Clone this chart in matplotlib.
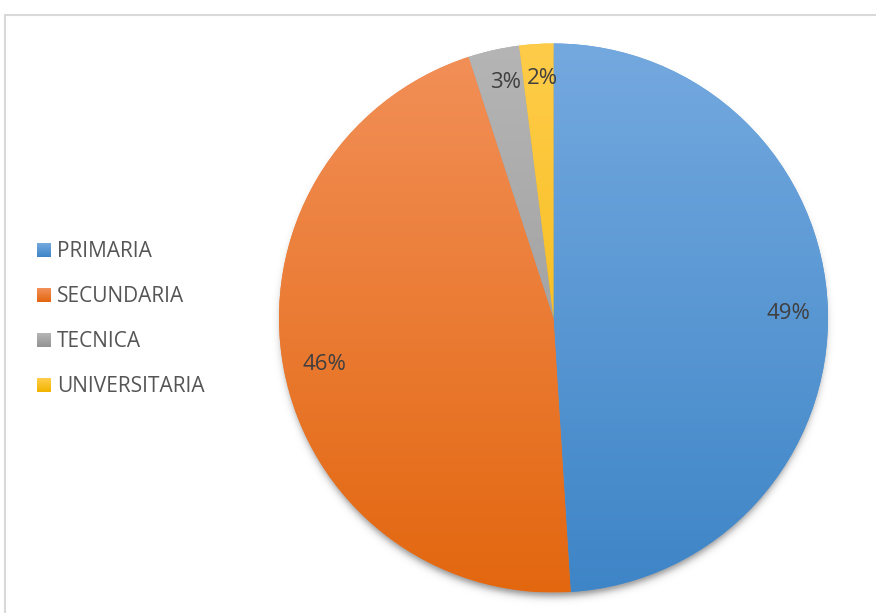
import numpy as np
import matplotlib
matplotlib.use('Agg')
import matplotlib.pyplot as plt
import matplotlib.colors as mcolors
from matplotlib.patches import Rectangle

categories = ['PRIMARIA', 'SECUNDARIA', 'TECNICA', 'UNIVERSITARIA']
shares = [49, 46, 3, 2]
top_colors = ['#74a9df', '#f29059', '#b5b5b5', '#ffcc4a']
bottom_colors = ['#3e85c7', '#e3670f', '#939393', '#f1b500']
label_dist = [0.856, 0.85, 0.89, 0.885]
label_shift = [0, 0, 5, 4]

W, H = 876, 613
cx, cy, R = 553.5, H - 318, 274.5

plt.rcParams['font.family'] = ['Open Sans', 'DejaVu Sans']


def vgrad(c_top, c_bot, n=256):
    t = np.linspace(0, 1, n)[:, None, None]
    a = np.array(mcolors.to_rgb(c_top))
    b = np.array(mcolors.to_rgb(c_bot))
    return a * (1 - t) + b * t


fig = plt.figure(figsize=(W / 100, H / 100), dpi=100)
ax = fig.add_axes([0, 0, 1, 1])

mids = [mcolors.to_hex((np.array(mcolors.to_rgb(a)) + np.array(mcolors.to_rgb(b))) / 2)
        for a, b in zip(top_colors, bottom_colors)]
wedges, _ = ax.pie(shares, startangle=90, counterclock=False,
                   center=(cx, cy), radius=R, colors=mids, labeldistance=None,
                   wedgeprops=dict(linewidth=0, zorder=2))

# soft drop shadow under the pie
gx = np.linspace(cx - R - 40, cx + R + 40, 700)
gy = np.linspace(cy - R - 40, cy + R + 40, 700)
X, Y = np.meshgrid(gx, gy)
d = np.hypot(X - cx, Y - (cy - 6))
shadow = np.zeros(X.shape + (4,))
shadow[..., 3] = 0.45 * 0.5 * (1 - np.tanh((d - R + 2) / 4.5))
ax.imshow(shadow, extent=(gx[0], gx[-1], gy[0], gy[-1]), origin='lower',
          aspect='auto', zorder=1, interpolation='bilinear')

# gradient fill clipped to each slice
for w, ct, cb in zip(wedges, top_colors, bottom_colors):
    im = ax.imshow(vgrad(ct, cb), extent=(cx - R, cx + R, cy - R, cy + R),
                   origin='upper', aspect='auto', zorder=3, interpolation='bilinear')
    im.set_clip_path(w)

# percentage labels
for w, v, dist, dx in zip(wedges, shares, label_dist, label_shift):
    ang = np.deg2rad((w.theta1 + w.theta2) / 2)
    x = cx + dist * R * np.cos(ang) + dx
    y = cy + dist * R * np.sin(ang)
    ax.text(x, y - 8, f'{v}%', ha='center', va='baseline', fontsize=16,
            color='#3f3f3f', zorder=5)

# legend
for i, (name, ct, cb) in enumerate(zip(categories, top_colors, bottom_colors)):
    yc = H - (250 + i * 45)
    ax.imshow(vgrad(ct, cb, 32), extent=(37, 51, yc - 7, yc + 7), origin='upper',
              aspect='auto', zorder=4)
    ax.text(57, yc - 7, name, ha='left', va='baseline', fontsize=15,
            color='#555555', zorder=5)

ax.add_patch(Rectangle((5, -20), W + 20, H - 14.5 + 20, fill=False,
                       edgecolor='#d9d9d9', linewidth=1.5, clip_on=False, zorder=0))

ax.set_xlim(0, W)
ax.set_ylim(0, H)
ax.set_aspect('auto')
ax.axis('off')

fig.savefig('out.png', dpi=100)
